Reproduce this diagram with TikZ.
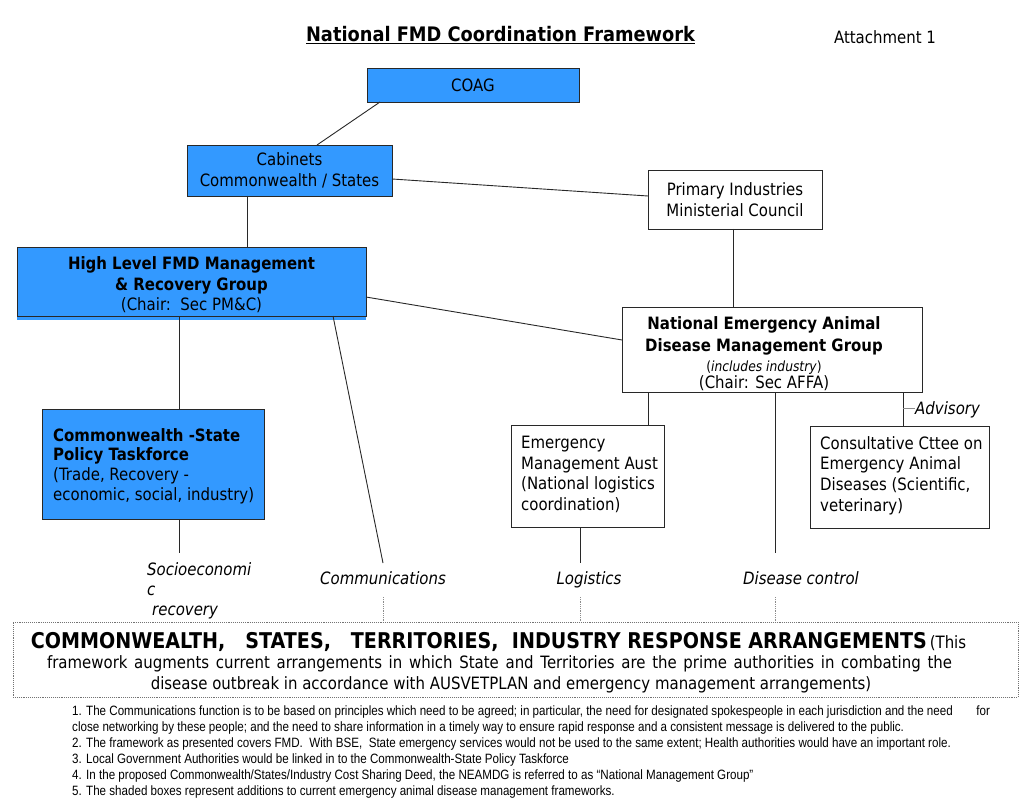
\documentclass[tikz,border=0pt]{standalone}
\usepackage{fontspec}
\setmainfont{DejaVu Sans}[FakeStretch=0.88]
\newfontfamily\titlefont{DejaVu Sans}[FakeStretch=0.89]
\newfontfamily\notefont{Liberation Sans}[FakeStretch=0.86]
\definecolor{fmdblue}{RGB}{51,153,255}
\definecolor{edge}{RGB}{40,40,40}
\begin{document}
\begin{tikzpicture}[x=1pt,y=-1pt,
  base/.style={line width=0.9, draw=edge, inner sep=0pt, outer sep=0pt},
  bluebox/.style={base, fill=fmdblue},
  whitebox/.style={base, fill=white},
  body/.style={font=\fontsize{17}{21}\selectfont},
  txt/.style={body, inner sep=0pt, align=left, anchor=north west},
  conn/.style={draw=edge, line width=0.9},
  dotconn/.style={draw=black!45, densely dotted, line width=0.8},
  lab/.style={font=\fontsize{17}{20}\selectfont\itshape, inner sep=0pt, text height=12pt, text depth=4pt},
  note/.style={font=\notefont\fontsize{13.5}{16}\selectfont, anchor=base west, inner sep=0pt}
]
\useasboundingbox (0,0) rectangle (1024,810);
\fill[white] (0,0) rectangle (1024,810);

% title
\node[inner sep=0pt] (title) at (500.5,35) {\titlefont\bfseries\fontsize{20}{24}\selectfont\underline{National FMD Coordination Framework}};
\node[inner sep=0pt] (att) at (885,37) {\fontsize{17}{20}\selectfont Attachment 1};

% boxes
\node[bluebox, minimum width=212, minimum height=34, body] (coag) at (473,85) {COAG};
\node[bluebox, minimum width=205, minimum height=51, body, align=center] (cab) at (289.5,170.5) {Cabinets\\Commonwealth / States};
\node[whitebox, minimum width=174, minimum height=59, body, align=center] (pimc) at (735,199.5) {Primary Industries\\Ministerial Council};

\fill[fmdblue] (17,314) rectangle (366,320);
\node[bluebox, minimum width=349, minimum height=69] (hl) at (191.5,281.5) {};
\node[body, align=center, inner sep=0pt] (hltxt) at (191.5,284.5)
  {\textbf{High Level FMD Management}\\\textbf{\& Recovery Group}\\[-1.5pt](Chair:\ \ Sec PM\&C)};

\node[whitebox, minimum width=300, minimum height=85] (neam) at (772,349.5) {};
\node[body, align=center, inner sep=0pt] (neamtxt) at (764,353.5)
  {\textbf{National Emergency Animal}\\[1.5pt]\textbf{Disease Management Group}\\[-1pt]
   {\fontsize{14}{17}\selectfont(\textit{includes industry})}\\[-4pt](Chair: Sec AFFA)};

\node[bluebox, minimum width=222, minimum height=110] (task) at (153,464) {};
\node[txt, font=\fontsize{17}{19.7}\selectfont] (tasktxt) at (53,428)
  {\textbf{Commonwealth -State}\\\textbf{Policy Taskforce}\\(Trade, Recovery -\\economic, social, industry)};

\node[whitebox, minimum width=153, minimum height=102] (ema) at (587.5,476) {};
\node[txt, font=\fontsize{17}{20.7}\selectfont] (ematxt) at (521,436)
  {Emergency\\Management Aust\\(National logistics\\coordination)};

\node[whitebox, minimum width=179, minimum height=102] (cce) at (899.5,477) {};
\node[txt, font=\fontsize{17}{20.7}\selectfont] (ccetxt) at (820,436)
  {Consultative Cttee on\\Emergency Animal\\Diseases (Scientific,\\veterinary)};

\node[base, densely dotted, draw=black!55, line width=0.8, minimum width=1005, minimum height=75] (resp) at (515.5,659.5) {};
\node[inner sep=0pt] (resp1) at (498.5,642)
  {{\fontsize{21.7}{22}\selectfont\textbf{COMMONWEALTH,\ \ \ STATES,\ \ \ TERRITORIES,\ \ INDUSTRY RESPONSE ARRANGEMENTS}} {\fontsize{17}{21}\selectfont(This}};
\node[inner sep=0pt, font=\fontsize{17}{21}\selectfont] (resp2) at (499.5,664)
  {\makebox[905pt][s]{framework augments current arrangements in which State and Territories are the prime authorities in combating the}};
\node[inner sep=0pt, font=\fontsize{17}{21}\selectfont] (resp3) at (511,685)
  {disease outbreak in accordance with AUSVETPLAN and emergency management arrangements)};

% labels
\node[lab, align=left, anchor=north west, text height=, text depth=] (socio) at (147,562) {Socioeconomi\\c\\\hspace*{5pt}recovery};
\node[lab] (comm) at (383,580) {Communications};
\node[lab] (logi) at (589,580) {Logistics};
\node[lab] (dis) at (801,580) {Disease control};
\node[lab, anchor=west] (adv) at (915,410) {Advisory};
\coordinate (advj) at (903,408);

% connectors
\draw[conn] (coag.south -| 380,0) -- (cab.north -| 317,0);
\draw[conn] (cab.east |- 0,179) -- (pimc.west |- 0,196);
\draw[conn] (cab.south -| 247,0) -- (hl.north -| 247,0);
\draw[conn] (pimc.south -| 733,0) -- (neam.north -| 733,0);
\draw[conn] (hl.east |- 0,297) -- (neam.west |- 0,340);
\draw[conn] (hl.south -| 179,0) -- (task.north -| 179,0);
\draw[conn] (hl.south -| 333,0) -- (383,563) coordinate (commtop);
\draw[conn] (task.south -| 179,0) -- (179,553) coordinate (sociotop);
\draw[conn] (neam.south -| 648,0) -- (ema.north -| 648,0);
\draw[conn] (ema.south -| 580,0) -- (580,563) coordinate (logitop);
\draw[conn] (neam.south -| 775,0) -- (775,553) coordinate (distop);
\draw[conn] (neam.south -| 903,0) -- (cce.north -| 903,0);
\draw[draw=black!45, line width=0.6] (advj) -- (adv.west |- advj);

\draw[dotconn] (383,597) -- (resp.north -| 383,0);
\draw[dotconn] (580,597) -- (resp.north -| 580,0);
\draw[dotconn] (775,597) -- (resp.north -| 775,0);

% notes
\node[note] (n1) at (72,715) {\makebox[918pt][l]{1. The Communications function is to be based on principles which need to be agreed; in particular, the need for designated spokespeople in each jurisdiction and the need\hfill for}};
\node[note] (n1b) at (72,731) {close networking by these people; and the need to share information in a timely way to ensure rapid response and a consistent message is delivered to the public.};
\node[note] (n2) at (72,747) {2. The framework as presented covers FMD.\ \ With BSE,\ \ State emergency services would not be used to the same extent; Health authorities would have an important role.};
\node[note] (n3) at (72,763) {3. Local Government Authorities would be linked in to the Commonwealth-State Policy Taskforce};
\node[note] (n4) at (72,779) {4. In the proposed Commonwealth/States/Industry Cost Sharing Deed, the NEAMDG is referred to as “National Management Group”};
\node[note] (n5) at (72,795) {5. The shaded boxes represent additions to current emergency animal disease management frameworks.};
\end{tikzpicture}
\end{document}
